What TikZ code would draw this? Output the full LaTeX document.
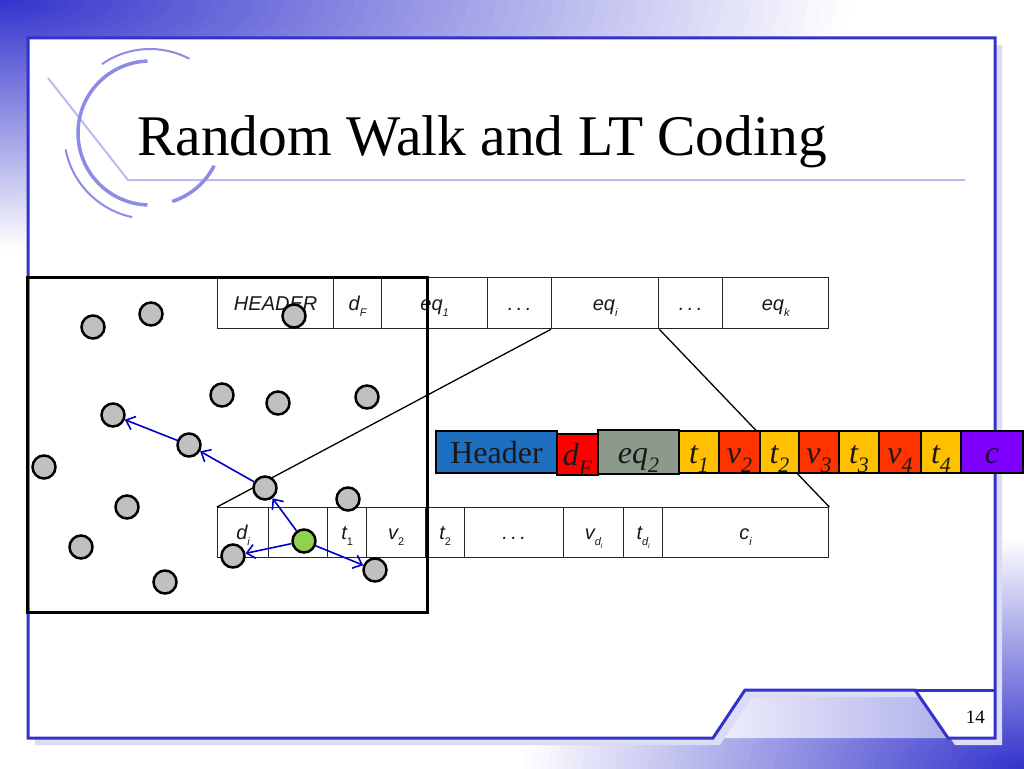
\documentclass[tikz,border=0pt]{standalone}
\usepackage{fontspec}
\setmainfont{Liberation Serif}
\setsansfont{Liberation Sans}
\usetikzlibrary{arrows.meta}
\definecolor{frameblue}{HTML}{3333CC}
\definecolor{decoarc}{HTML}{8C8CE8}
\definecolor{decoline}{HTML}{B8BCF0}
\definecolor{shadowc}{HTML}{DCDCF4}
\definecolor{nodegray}{HTML}{C0C0C0}
\definecolor{nodegreen}{HTML}{92D050}
\definecolor{hdrblue}{HTML}{1F6FC0}
\definecolor{dfred}{HTML}{FF0000}
\definecolor{eqgray}{HTML}{8C9A8C}
\definecolor{tyellow}{HTML}{FFC000}
\definecolor{vred}{HTML}{FF3300}
\definecolor{cpurple}{HTML}{8000FF}
\definecolor{arrowblue}{HTML}{0000CC}
\newcommand{\sbs}[1]{\raisebox{-0.3em}{\fontsize{11}{11}\selectfont #1}}
\newcommand{\ssbs}[1]{\raisebox{-0.25em}{\fontsize{7}{7}\selectfont #1}}
\newcommand{\bsub}[1]{\raisebox{-0.3em}{\fontsize{22}{22}\selectfont\itshape #1}}
\begin{document}
\begin{tikzpicture}[x=1pt,y=-1pt,
  topcell/.style={draw=black!85, line width=1.3pt, inner sep=0pt, minimum height=51pt, anchor=north west, text height=14pt, text depth=0pt, font=\fontsize{20}{20}\selectfont\sffamily\itshape, text=black!90},
  lowcell/.style={topcell, minimum height=50pt},
  colcell/.style={draw=black, line width=2pt, inner sep=0pt, minimum height=42pt, anchor=north west, text height=22pt, text depth=0pt, font=\fontsize{32}{32}\selectfont\itshape, text=black!90},
  ball/.style={circle, draw=black, line width=2.5pt, fill=nodegray, minimum size=23pt, inner sep=0pt},
  walk/.style={draw=arrowblue, line width=1.6pt, -{Straight Barb[length=8pt,width=14pt]}},
  framepath/.style={draw=frameblue, line width=3pt, line join=miter}]
\useasboundingbox (0,0) rectangle (1024,768);
% background
\begin{scope}
\clip (0,0) rectangle (1024,768);
\fill[white] (0,0) rectangle (1024,768);
\foreach \i in {0,...,59} {
  \pgfmathsetmacro\dd{1-\i/60}
  \pgfmathsetmacro\pp{100*(\i+0.5)/60}
  \fill[frameblue!\pp!white] (0,0) ellipse [x radius=850*\dd, y radius=250*\dd];
  \fill[frameblue!\pp!white] (1024,768) ellipse [x radius=500*\dd, y radius=230*\dd];
}
\end{scope}
\shade[left color=white!92!frameblue, right color=white!62!frameblue]
  (713,738) -- (745,690) -- (915,690) -- (948,738) -- cycle;
% frame shadow and frame
\fill[shadowc] (35,45) -- (1002,45) -- (1002,745) -- (955,745) -- (922,697) -- (752,697) -- (720,745) -- (35,745) -- cycle;
\fill[white] (28,38) -- (995,38) -- (995,738) -- (948,738) -- (915,690) -- (745,690) -- (713,738) -- (28,738) -- cycle;
\draw[framepath] (28,38) -- (995,38) -- (995,738) -- (948,738) -- (915,690) -- (745,690) -- (713,738) -- (28,738) -- cycle;
\draw[framepath] (915,690) -- (995,690);
% title decoration
\coordinate (dc) at (150,133);
\draw[decoline, line width=2pt] (48,78) -- (128,180) -- (965,180);
\draw[decoarc, line width=3.5pt] (dc) ++(-92:72) arc[start angle=-92, end angle=-268, radius=72];
\draw[decoarc, line width=3.5pt] (dc) ++(-288:72) arc[start angle=-288, end angle=-333, radius=72];
\draw[decoarc, line width=2pt] (dc) ++(-62:84) arc[start angle=-62, end angle=-125, radius=84];
\draw[decoarc, line width=2pt] (dc) ++(-191:86) arc[start angle=-191, end angle=-258, radius=86];
% title
\node[anchor=base west, inner sep=0pt, font=\fontsize{57.5}{57.5}\selectfont] (title) at (137,155) {Random Walk and LT Coding};
\node[anchor=base east, inner sep=0pt, font=\fontsize{19}{19}\selectfont] (num) at (985,723) {14};
% top packet row
\node[topcell, minimum width=116pt] (thd) at (217,277) {HEADER};
\node[topcell, minimum width=48pt] (tdf) at (333,277) {d\sbs{F}};
\node[topcell, minimum width=106pt] (teq1) at (381,277) {eq\sbs{1}};
\node[topcell, minimum width=64pt] (tdots1) at (487,277) {.\,.\,.};
\node[topcell, minimum width=107pt] (teqi) at (551,277) {eq\sbs{i}};
\node[topcell, minimum width=64pt] (tdots2) at (658,277) {.\,.\,.};
\node[topcell, minimum width=106pt] (teqk) at (722,277) {eq\sbs{k}};
% lower packet row
\node[lowcell, minimum width=51pt] (ldi) at (217,507) {d\sbs{i}};
\node[lowcell, minimum width=59pt] (lblank) at (268,507) {};
\node[lowcell, minimum width=39pt] (lt1) at (327,507) {t\sbs{\upshape 1}};
\node[lowcell, minimum width=59pt] (lv2) at (366,507) {v\sbs{\upshape 2}};
\node[lowcell, minimum width=39pt] (lt2) at (425,507) {t\sbs{\upshape 2}};
\node[lowcell, minimum width=99pt] (ldots) at (464,507) {.\,.\,.};
\node[lowcell, minimum width=60pt] (lvd) at (563,507) {v\sbs{d\ssbs{i}}};
\node[lowcell, minimum width=39pt] (ltd) at (623,507) {t\sbs{d\ssbs{i}}};
\node[lowcell, minimum width=166pt] (lci) at (662,507) {c\sbs{i}};
% big rectangle
\draw[black, line width=3pt] (27,277) rectangle (427,612);
% zoom lines
\draw[black, line width=1.3pt] (teqi.south west) -- (ldi.north west);
\draw[black, line width=1.3pt] (teqi.south east) -- (lci.north east);
% coloured packet
\node[colcell, fill=hdrblue, minimum width=121pt, font=\fontsize{32}{32}\selectfont\upshape] (chd) at (435,430) {Header};
\node[colcell, fill=dfred, minimum width=41pt, minimum height=41pt] (cdf) at (556,433) {d\bsub{F}};
\node[colcell, fill=eqgray, minimum width=81pt, minimum height=44pt] (ceq) at (597,429) {eq\bsub{2}};
\node[colcell, fill=tyellow, minimum width=40pt] (ct1) at (678,430) {t\bsub{1}};
\node[colcell, fill=vred, minimum width=41pt] (cv2) at (718,430) {v\bsub{2}};
\node[colcell, fill=tyellow, minimum width=39pt] (ct2) at (759,430) {t\bsub{2}};
\node[colcell, fill=vred, minimum width=40pt] (cv3) at (798,430) {v\bsub{3}};
\node[colcell, fill=tyellow, minimum width=40pt] (ct3) at (838,430) {t\bsub{3}};
\node[colcell, fill=vred, minimum width=42pt] (cv4) at (878,430) {v\bsub{4}};
\node[colcell, fill=tyellow, minimum width=40pt] (ct4) at (920,430) {t\bsub{4}};
\node[colcell, fill=cpurple, minimum width=62pt, text=black!75!cpurple] (cc) at (960,430) {c};
% sensor nodes
\node[ball] (n1) at (93,327) {};
\node[ball] (n2) at (151,314) {};
\node[ball] (n3) at (294,316) {};
\node[ball] (n4) at (222,395) {};
\node[ball] (n5) at (278,403) {};
\node[ball] (n6) at (367,397) {};
\node[ball] (n7) at (113,415) {};
\node[ball] (n8) at (189,445) {};
\node[ball] (n9) at (44,467) {};
\node[ball] (n10) at (265,488) {};
\node[ball] (n11) at (348,499) {};
\node[ball] (n12) at (127,507) {};
\node[ball] (n13) at (81,547) {};
\node[ball] (n14) at (233,556) {};
\node[ball, fill=nodegreen] (n15) at (304,541) {};
\node[ball] (n16) at (375,570) {};
\node[ball] (n17) at (165,582) {};
% random walk
\draw[walk] (n15) -- (n10);
\draw[walk] (n10) -- (n8);
\draw[walk] (n8) -- (n7);
\draw[walk] (n15) -- (n14);
\draw[walk] (n15) -- (n16);
\end{tikzpicture}
\end{document}
